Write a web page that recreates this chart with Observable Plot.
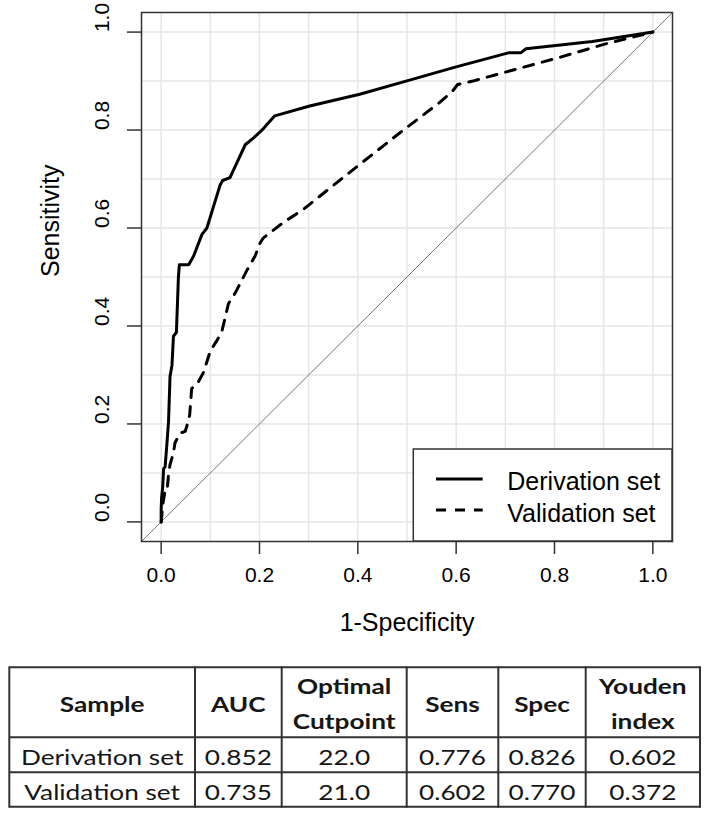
<!DOCTYPE html>
<html><head><meta charset="utf-8">
<script src="https://cdn.jsdelivr.net/npm/d3@7"></script>
<script src="https://cdn.jsdelivr.net/npm/@observablehq/plot@0.6"></script>
<style>
body{margin:0;background:#fff;}
#wrap{position:relative;width:712px;height:818px;background:#fff;}
#wrap svg{display:block;}
</style></head><body><div id="wrap"></div>
<script>
// ---- data ----
const derivFPR = [0, 0, 0.001, 0.003, 0.005, 0.008, 0.012, 0.015, 0.018, 0.022, 0.025, 0.031, 0.035, 0.037, 0.056, 0.066, 0.083, 0.093, 0.12, 0.125, 0.14, 0.171, 0.188, 0.208, 0.231, 0.302, 0.404, 0.498, 0.600, 0.708, 0.732, 0.742, 0.877, 1.0];
const derivTPR = [0, 0.026, 0.05, 0.07, 0.109, 0.112, 0.164, 0.205, 0.297, 0.32, 0.379, 0.387, 0.498, 0.525, 0.525, 0.543, 0.587, 0.6, 0.688, 0.697, 0.703, 0.77, 0.784, 0.803, 0.829, 0.849, 0.873, 0.9, 0.929, 0.958, 0.958, 0.966, 0.981, 1.0];
const valFPR = [0, 0.004, 0.008, 0.012, 0.015, 0.018, 0.025, 0.028, 0.038, 0.049, 0.052, 0.058, 0.062, 0.074, 0.086, 0.1, 0.112, 0.123, 0.137, 0.151, 0.174, 0.191, 0.201, 0.208, 0.248, 0.289, 0.404, 0.485, 0.566, 0.593, 0.603, 0.634, 0.721, 0.809, 0.904, 1.0];
const valTPR = [0, 0.04, 0.064, 0.064, 0.097, 0.117, 0.141, 0.161, 0.181, 0.185, 0.195, 0.218, 0.272, 0.283, 0.305, 0.349, 0.368, 0.387, 0.446, 0.468, 0.513, 0.543, 0.569, 0.580, 0.611, 0.638, 0.730, 0.794, 0.856, 0.880, 0.893, 0.900, 0.924, 0.948, 0.976, 1.0];
const axisTicks = [0, 0.2, 0.4, 0.6, 0.8, 1.0];
const gridTicks = [0, 0.1, 0.2, 0.3, 0.4, 0.5, 0.6, 0.7, 0.8, 0.9, 1.0];
const axisDomain = [-0.04, 1.04];
const seriesNames = ["Derivation set", "Validation set"];
const xTitle = "1-Specificity";
const yTitle = "Sensitivity";
const tableHeader = ["Sample", "AUC", "Optimal\nCutpoint", "Sens", "Spec", "Youden\nindex"];
const samples = ["Derivation set", "Validation set"];
const auc = [0.852, 0.735];
const cutpoint = [22.0, 21.0];
const sens = [0.776, 0.602];
const spec = [0.826, 0.770];
const youden = [0.602, 0.372];

// ---- layout ----
const W = 712, H = 660;
const frame = {left: 141, right: 672, top: 12, bottom: 541};
const derivation = derivFPR.map((x, i) => ({fpr: x, tpr: derivTPR[i]}));
const validation = valFPR.map((x, i) => ({fpr: x, tpr: valTPR[i]}));
const fmt1 = d => d.toFixed(1);

const plot = Plot.plot({
  width: W, height: H,
  marginLeft: frame.left, marginRight: W - frame.right,
  marginTop: frame.top, marginBottom: H - frame.bottom,
  x: {domain: axisDomain},
  y: {domain: axisDomain},
  style: {fontFamily: "'Liberation Sans', Arial, sans-serif", fontSize: "21px", color: "#000", background: "#fff", overflow: "visible"},
  marks: [
    Plot.gridX(gridTicks, {stroke: "#e6e6e6", strokeOpacity: 1, strokeWidth: 1.5}),
    Plot.gridY(gridTicks, {stroke: "#e6e6e6", strokeOpacity: 1, strokeWidth: 1.5}),
    Plot.link([axisDomain], {x1: d => d[0], y1: d => d[0], x2: d => d[1], y2: d => d[1], stroke: "#666", strokeWidth: 0.9}),
    Plot.line(validation, {x: "fpr", y: "tpr", stroke: "#000", strokeWidth: 3, strokeDasharray: "10,9"}),
    Plot.line(derivation, {x: "fpr", y: "tpr", stroke: "#000", strokeWidth: 3}),
    Plot.frame({stroke: "#333", strokeWidth: 1.5}),
    Plot.axisX(axisTicks, {tickSize: 13, tickFormat: () => "", label: null, stroke: "#333", strokeWidth: 1.5}),
    Plot.axisY(axisTicks, {tickSize: 14, tickFormat: () => "", label: null, stroke: "#333", strokeWidth: 1.5}),
    Plot.text(axisTicks, {x: d => d, text: fmt1, frameAnchor: "bottom", dy: 40, fontSize: 21, fill: "#000"}),
    Plot.text(axisTicks, {y: d => d, text: fmt1, frameAnchor: "left", dx: -39, rotate: -90, fontSize: 21, fill: "#000"}),
    Plot.text([xTitle], {text: d => d, frameAnchor: "bottom", dy: 89, fontSize: 25, fill: "#000"}),
    Plot.text([yTitle], {text: d => d, frameAnchor: "left", dx: -91, rotate: -90, fontSize: 25, fill: "#000"})
  ]
});

// legend (bottom-right inside frame)
const svg = d3.select(plot);
const lg = svg.append("g").attr("text-anchor", "start");
const lgW = 258.7, lgH = 92;
lg.append("rect")
  .attr("x", frame.right - lgW).attr("y", frame.bottom - lgH)
  .attr("width", lgW).attr("height", lgH)
  .attr("fill", "#fff").attr("stroke", "#333").attr("stroke-width", 1.5);
const lgRows = [{dash: null, ly: 62, ty: 51}, {dash: "10,9", ly: 31, ty: 19.3}];
seriesNames.forEach((name, i) => {
  const r = lgRows[i];
  lg.append("line")
    .attr("x1", frame.right - 236).attr("x2", frame.right - 189.3)
    .attr("y1", frame.bottom - r.ly).attr("y2", frame.bottom - r.ly)
    .attr("stroke", "#000").attr("stroke-width", 3)
    .attr("stroke-dasharray", r.dash);
  lg.append("text")
    .attr("x", frame.right - 164.7).attr("y", frame.bottom - r.ty)
    .attr("text-anchor", "start")
    .attr("font-size", 25).attr("fill", "#000")
    .text(name);
});

document.getElementById("wrap").appendChild(plot);

// ---- table ----
const T0 = 660;
const colEdges = [9.3, 195, 281.7, 406.7, 498.3, 585.7, 700];
const rowEdges = [667.3, 737.3, 772.3, 806.7].map(v => v - T0);
const tsvg = d3.select("#wrap").append("svg")
  .attr("width", W).attr("height", 818 - T0)
  .style("font-family", "Lato, 'Open Sans', sans-serif");
const g = tsvg.append("g");
const bc = "#333";
rowEdges.forEach(y => g.append("line").attr("x1", colEdges[0]).attr("x2", colEdges[colEdges.length - 1]).attr("y1", y).attr("y2", y).attr("stroke", bc).attr("stroke-width", 2));
colEdges.forEach(x => g.append("line").attr("x1", x).attr("x2", x).attr("y1", rowEdges[0] - 1).attr("y2", rowEdges[rowEdges.length - 1] + 1).attr("stroke", bc).attr("stroke-width", 2));
const sx = 1.22, fs = 21.5;
function cellText(col, baseline, str, bold) {
  const cx = (colEdges[col] + colEdges[col + 1]) / 2;
  g.append("text")
    .attr("transform", `translate(${cx},${baseline}) scale(${sx},1)`)
    .attr("text-anchor", "middle")
    .attr("font-size", fs)
    .attr("font-weight", bold ? 700 : 400)
    .attr("fill", "#161616")
    .text(str);
}
tableHeader.forEach((h, c) => {
  const lines = h.split("\n");
  if (lines.length === 1) cellText(c, 712 - T0, lines[0], true);
  else { cellText(c, 694 - T0, lines[0], true); cellText(c, 729 - T0, lines[1], true); }
});
const rowBase = [765 - T0, 800 - T0];
samples.forEach((s, r) => {
  const vals = [s, auc[r].toFixed(3), cutpoint[r].toFixed(1), sens[r].toFixed(3), spec[r].toFixed(3), youden[r].toFixed(3)];
  vals.forEach((v, c) => cellText(c, rowBase[r], v, false));
});
</script></body></html>
